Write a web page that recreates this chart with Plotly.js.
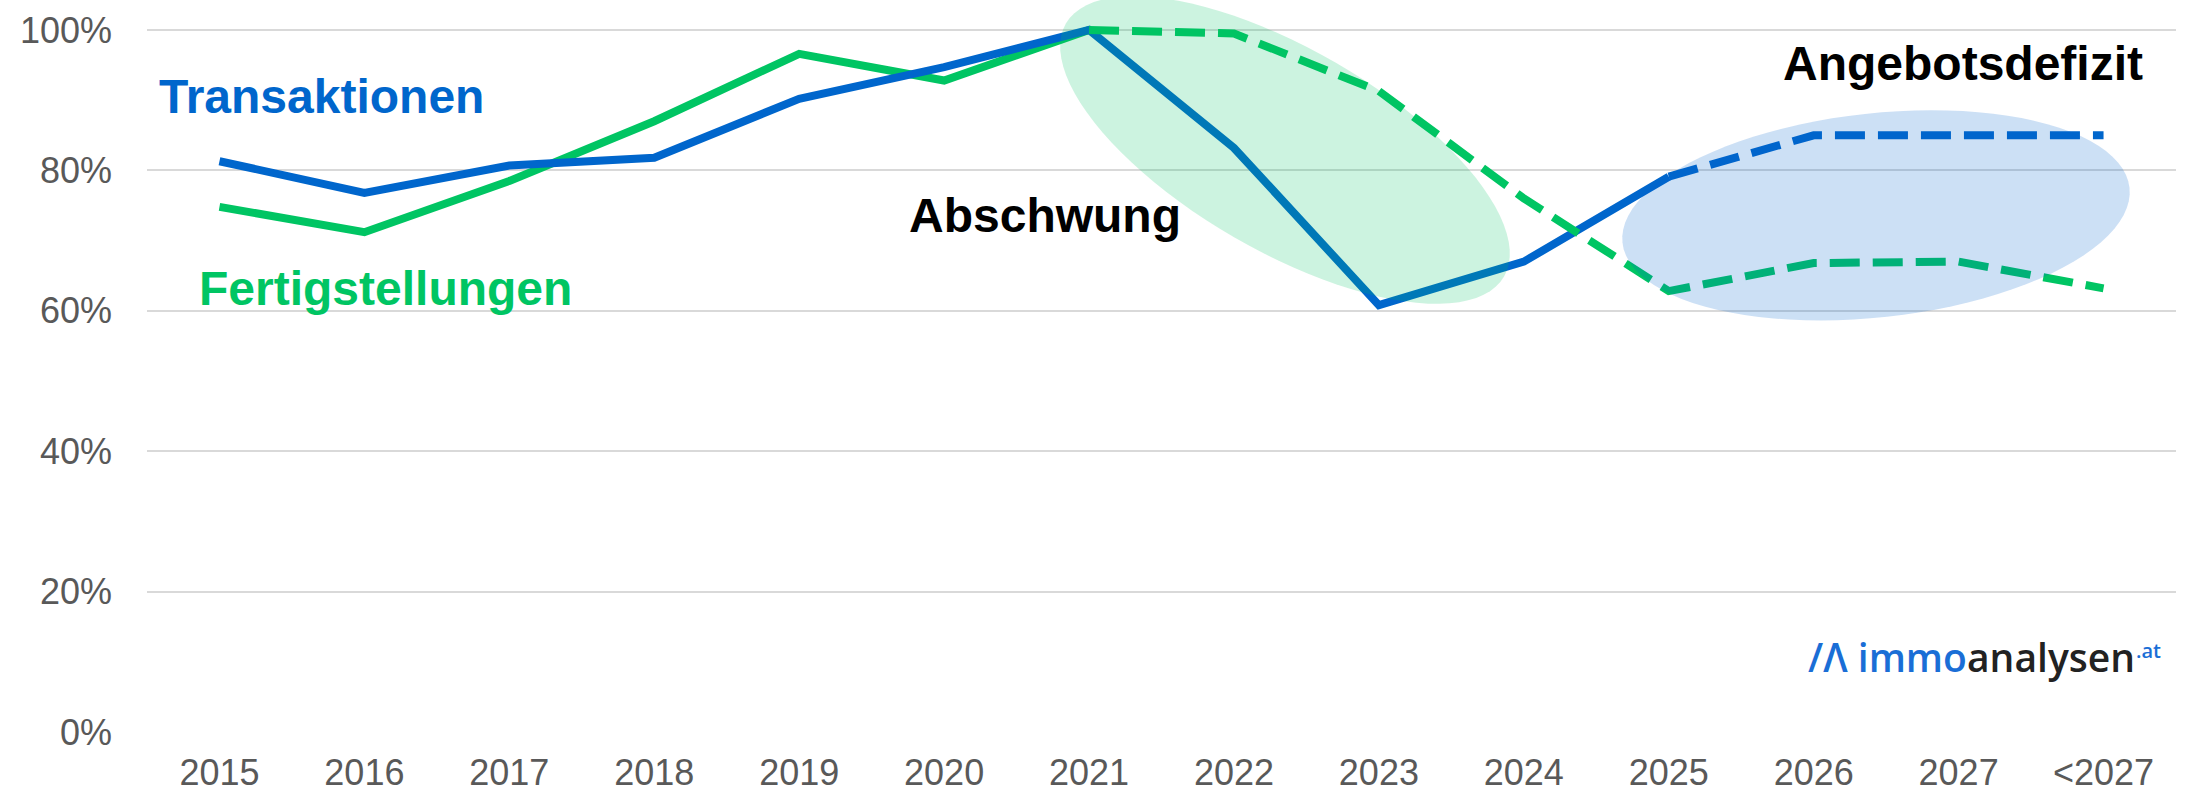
<!DOCTYPE html>
<html>
<head>
<meta charset="utf-8">
<script src="https://cdn.plot.ly/plotly-3.0.1.min.js"></script>
<style>html,body{margin:0;padding:0;background:#fff;}#chart{width:2188px;height:797px;}</style>
</head>
<body>
<div id="chart"></div>
<script>
// ---- data ----
const categories = ['2015','2016','2017','2018','2019','2020','2021','2022','2023','2024','2025','2026','2027','<2027'];
const transaktionen = [81.3, 76.8, 80.7, 81.8, 90.2, 94.7, 100, 83.2, 60.8, 67.0, 79.1, 85.0, 85.0, 85.0];
const fertigstellungen = [74.8, 71.2, 78.5, 87.0, 96.6, 92.8, 100, 99.5, 91.3, 76.0, 62.8, 66.8, 67.0, 63.2];
const transaktionenForecastFrom = '2025';
const fertigstellungenForecastFrom = '2021';
const yTickVals = [0, 20, 40, 60, 80, 100];
const yTickText = ['0%', '20%', '40%', '60%', '80%', '100%'];
const seriesNames = ['Transaktionen', 'Fertigstellungen'];
const phaseLabels = ['Abschwung', 'Angebotsdefizit'];
const logoParts = ['/Λ immo', 'analysen', '.at'];

// ---- layout constants ----
const W = 2188, H = 797;
const M = {l: 147, r: 12, t: 0, b: 65};
const plotW = W - M.l - M.r, plotH = H - M.t - M.b;
const xRange = [-0.5, categories.length - 0.5];
const yRange = [0, 104.27];
const BLUE = '#0066CC', GREEN = '#00C563';

function split(values, fromCat) {
  const k = categories.indexOf(fromCat);
  const solid = values.map((v, i) => i <= k ? v : null);
  const dashed = values.map((v, i) => i >= k ? v : null);
  return {solid, dashed};
}
const xIdx = categories.map((c, i) => i);
const tb = split(transaktionen, transaktionenForecastFrom);
const fb = split(fertigstellungen, fertigstellungenForecastFrom);

const dash = '30px,13px';
const traces = [
  {x: xIdx, y: fb.solid, mode: 'lines', line: {color: GREEN, width: 8}, hoverinfo: 'skip'},
  {x: xIdx, y: tb.solid, mode: 'lines', line: {color: BLUE, width: 8}, hoverinfo: 'skip'},
  {x: xIdx, y: tb.dashed, mode: 'lines', line: {color: BLUE, width: 8, dash: dash}, hoverinfo: 'skip'},
  {x: xIdx, y: fb.dashed, mode: 'lines', line: {color: GREEN, width: 8, dash: dash}, hoverinfo: 'skip'}
];

// ellipse path in data coords, axes given in pixels, rotation in degrees (counter-clockwise on screen)
function ellipsePath(cx, cy, aPx, bPx, angDeg) {
  const pxX = plotW / (xRange[1] - xRange[0]);
  const pxY = plotH / (yRange[1] - yRange[0]);
  const th = angDeg * Math.PI / 180;
  const pts = [];
  for (let i = 0; i < 96; i++) {
    const t = 2 * Math.PI * i / 96;
    const ex = aPx * Math.cos(t), ey = bPx * Math.sin(t);
    const dx = ex * Math.cos(th) - ey * Math.sin(th);
    const dy = ex * Math.sin(th) + ey * Math.cos(th);
    pts.push((cx + dx / pxX).toFixed(4) + ',' + (cy + dy / pxY).toFixed(4));
  }
  return 'M' + pts.join(' L') + ' Z';
}

const shapes = [
  {type: 'path', xref: 'x', yref: 'y', path: ellipsePath(7.352, 82.9, 253, 101, -30),
   fillcolor: GREEN, opacity: 0.2, line: {width: 0}, layer: 'above'},
  {type: 'path', xref: 'x', yref: 'y', path: ellipsePath(11.43, 73.6, 255, 102, 6.2),
   fillcolor: BLUE, opacity: 0.2, line: {width: 0}, layer: 'above'}
];

function px2paperX(px) { return (px - M.l) / plotW; }
function px2paperY(py) { return (H - M.b - py) / plotH; }
const labelFont = {family: 'Liberation Sans, Arial, sans-serif', size: 48, weight: 700};
function lab(text, left, midY, color, font) {
  return {text: text, xref: 'paper', yref: 'paper', x: px2paperX(left), y: px2paperY(midY),
          xanchor: 'left', yanchor: 'middle', showarrow: false,
          font: Object.assign({}, font || labelFont, {color: color})};
}
const logoFont = {family: 'Open Sans, sans-serif', size: 39, weight: 600};
const annotations = [
  lab(seriesNames[0], 157, 96, BLUE),
  lab(seriesNames[1], 197, 288, GREEN),
  lab(phaseLabels[0], 907, 215, '#000000'),
  lab(phaseLabels[1], 1781, 63, '#000000'),
  lab(logoParts[0], 1806, 656, '#1A6ED6', logoFont),
  lab(logoParts[1], 1965, 656, '#222222', logoFont),
  lab(logoParts[2], 2134, 650, '#1A6ED6', {family: 'Open Sans, sans-serif', size: 20, weight: 600})
];

const layout = {
  width: W, height: H,
  margin: M,
  paper_bgcolor: '#ffffff', plot_bgcolor: '#ffffff',
  showlegend: false,
  xaxis: {
    range: xRange, tickmode: 'array', tickvals: xIdx, ticktext: categories,
    showgrid: false, zeroline: false, showline: false, ticks: '',
    ticklabelstandoff: 16,
    tickfont: {family: 'Liberation Sans, Arial, sans-serif', size: 36, color: '#595959'},
    fixedrange: true
  },
  yaxis: {
    range: yRange, tickmode: 'array', tickvals: yTickVals, ticktext: yTickText,
    showgrid: true, gridcolor: '#D9D9D9', gridwidth: 2, zeroline: false, showline: false, ticks: '',
    ticklabelstandoff: 34,
    tickfont: {family: 'Liberation Sans, Arial, sans-serif', size: 36, color: '#595959'},
    fixedrange: true
  },
  shapes: shapes,
  annotations: annotations
};

Plotly.newPlot('chart', traces, layout, {displayModeBar: false, staticPlot: true});
</script>
</body>
</html>
